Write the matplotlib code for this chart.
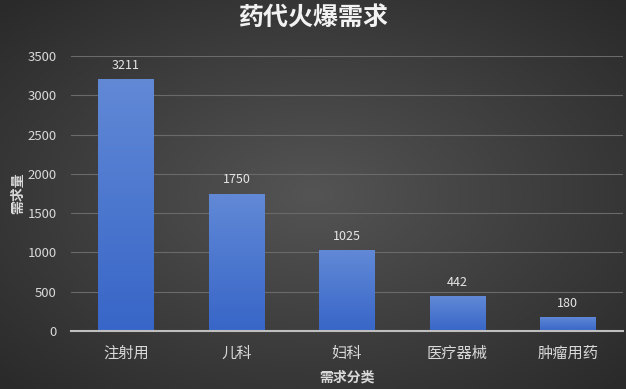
import numpy as np
import matplotlib.pyplot as plt
from matplotlib.colors import LinearSegmentedColormap

plt.rcParams['font.family'] = ['Noto Sans CJK SC', 'DejaVu Sans']

# 数据
categories = ['注射用', '儿科', '妇科', '医疗器械', '肿瘤用药']
values = [3211, 1750, 1025, 442, 180]
yticks = [0, 500, 1000, 1500, 2000, 2500, 3000, 3500]

fig = plt.figure(figsize=(6.26, 3.89), dpi=100)

# 背景渐变
bg = fig.add_axes([0, 0, 1, 1], zorder=-10)
yy, xx = np.mgrid[-1:1:200j, -1:1:300j]
r = np.sqrt(xx ** 2 + yy ** 2)
bg_cmap = LinearSegmentedColormap.from_list('bg', ['#545454', '#2a2a2a'])
bg.imshow(r, cmap=bg_cmap, aspect='auto', extent=[0, 1, 0, 1], vmin=0, vmax=1.4)
bg.axis('off')

ax = fig.add_axes([0.113, 0.149, 0.882, 0.707])
ax.patch.set_alpha(0)

x = np.arange(len(categories))
bars = ax.bar(x, values, width=0.5, color='none', zorder=3)

# 柱子渐变
bar_cmap = LinearSegmentedColormap.from_list('bar', ['#3866c8', '#6189d6'])
grad = np.linspace(0, 1, 256).reshape(-1, 1)
for b in bars:
    x0, y0 = b.get_x(), b.get_y()
    w, h = b.get_width(), b.get_height()
    im = ax.imshow(grad, cmap=bar_cmap, aspect='auto', origin='lower',
                   extent=[x0, x0 + w, y0, y0 + h], zorder=3)
    im.set_clip_path(b)

for xi, v in zip(x, values):
    ax.text(xi, v + 90, str(v), ha='center', va='bottom', color='#e6e6e6', fontsize=9)

ax.set_xlim(-0.5, len(categories) - 0.5)
ax.set_ylim(0, 3500)
ax.set_yticks(yticks)
ax.set_xticks(x)
ax.set_xticklabels(categories, fontsize=11, color='#d9d9d9')
ax.tick_params(axis='y', colors='#d9d9d9', labelsize=9.5, length=0, pad=10)
ax.tick_params(axis='x', length=0, pad=10)
ax.yaxis.grid(True, color='#6a6a6a', linewidth=0.8, zorder=0)
ax.set_axisbelow(True)
for s in ['top', 'right', 'left']:
    ax.spines[s].set_visible(False)
ax.spines['bottom'].set_color('#bfbfbf')
ax.spines['bottom'].set_linewidth(1.5)
ax.spines['bottom'].set_zorder(4)

ax.set_xlabel('需求分类', color='#d9d9d9', fontsize=10, fontweight='bold', labelpad=6)
ax.set_ylabel('需求量', color='#d9d9d9', fontsize=10, fontweight='bold', labelpad=2)

fig.text(0.5, 0.952, '药代火爆需求', ha='center', va='center', color='#f2f2f2',
         fontsize=18, fontweight='bold')

plt.savefig('out.png', dpi=100)
